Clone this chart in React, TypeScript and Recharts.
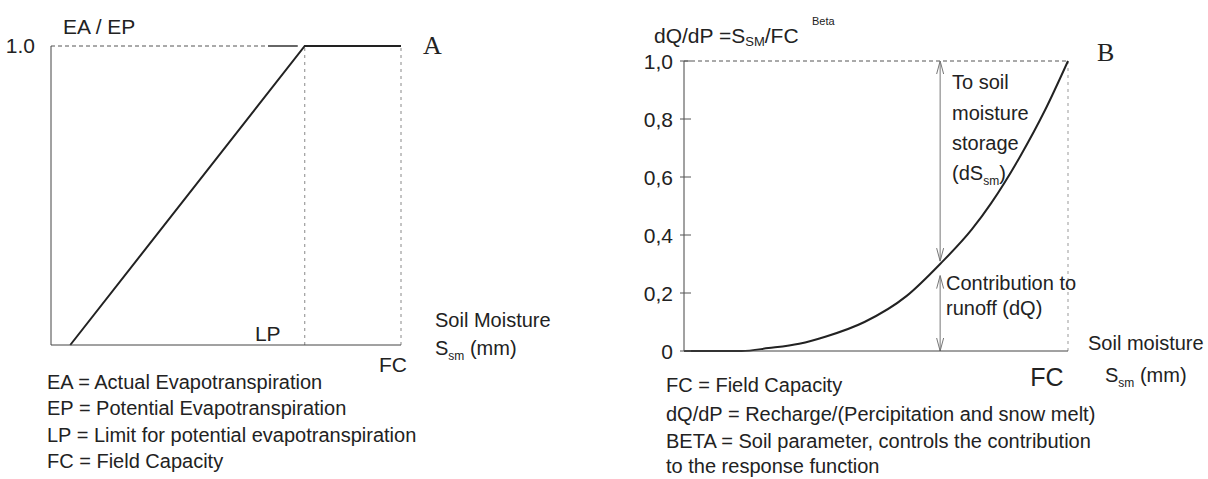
import React from 'react';
import { LineChart, Line, XAxis, YAxis, ReferenceLine } from 'recharts';

// Panel A: EA/EP against soil moisture (FC = 1)
const soilA = [0.055, 0.725, 1];
const ratioA = [0, 1, 1];
const lpA = 0.725;
const fcA = 1;
const ticksA = [1];

// Panel B: dQ/dP = (Ssm/FC)^Beta
const soilB = [0, 0.15, 0.22, 0.3, 0.37, 0.47, 0.58, 0.667, 0.75, 0.8, 0.875, 0.94, 1];
const rechargeB = [0, 0, 0.01, 0.025, 0.05, 0.1, 0.19, 0.3, 0.42, 0.51, 0.67, 0.83, 1];
const ticksB = [0, 0.2, 0.4, 0.6, 0.8, 1];
const tickLabelsB = ['0', '0,2', '0,4', '0,6', '0,8', '1,0'];
const arrowX = 0.667;
const arrowUpper = [0.31, 1];
const arrowLower = [0, 0.26];

const legendA = [
  'EA = Actual Evapotranspiration',
  'EP = Potential Evapotranspiration',
  'LP = Limit for potential evapotranspiration',
  'FC = Field Capacity',
];
const legendB = [
  'FC = Field Capacity',
  'dQ/dP = Recharge/(Percipitation and snow melt)',
  'BETA = Soil parameter, controls the contribution',
  'to the response function',
];

const font = "'Liberation Sans', Arial, sans-serif";
const ink = '#222';

const dataA = soilA.map((s, i) => ({ s, r: ratioA[i] }));
const dataB = soilB.map((s, i) => ({ s, q: rechargeB[i] }));

const lineLabel = (text: string, dx: number, dy: number, size: number) => (props: any) => {
  const vb = props.viewBox || {};
  return (
    <text x={vb.x + dx} y={vb.y + vb.height + dy} textAnchor="middle" fontSize={size} fontFamily={font} fill={ink}>
      {text}
    </text>
  );
};

const DoubleArrow = (props: any) => {
  const { x1, y1, y2 } = props;
  const top = Math.min(y1, y2);
  const bottom = Math.max(y1, y2);
  return (
    <g stroke="#777" strokeWidth={1} fill="none">
      <line x1={x1} y1={top} x2={x1} y2={bottom} />
      <polyline points={`${x1 - 3.5},${top + 13} ${x1},${top} ${x1 + 3.5},${top + 13}`} />
      <polyline points={`${x1 - 3.5},${bottom - 13} ${x1},${bottom} ${x1 + 3.5},${bottom - 13}`} />
    </g>
  );
};

const TickB = ({ x, y, payload }: any) => (
  <g>
    <line x1={x - 4} x2={x + 7} y1={y} y2={y} stroke="#555" />
    <text x={x - 11} y={y} dy="0.36em" textAnchor="end" fontSize={21} fontFamily={font} fill={ink}>
      {tickLabelsB[ticksB.indexOf(payload.value)]}
    </text>
  </g>
);

const txt = (left: number, top: number, size = 20): React.CSSProperties => ({
  position: 'absolute',
  left,
  top,
  fontSize: size,
  lineHeight: 1,
  fontFamily: font,
  color: ink,
  whiteSpace: 'nowrap',
});

const sub: React.CSSProperties = { fontSize: 12, position: 'relative', top: 5 };

export default function App() {
  return (
    <div style={{ position: 'absolute', left: 0, top: 0, width: 1208, height: 479, background: '#fff', overflow: 'hidden' }}>
      {/* Panel A */}
      <div style={{ position: 'absolute', left: 0, top: 0 }}>
        <LineChart width={440} height={479} data={dataA} margin={{ top: 46, right: 39, bottom: 133, left: 11 }}>
          <XAxis type="number" dataKey="s" domain={[0, 1]} height={1} tick={false} tickLine={false} axisLine={{ stroke: '#444' }} />
          <YAxis
            type="number"
            domain={[0, 1]}
            ticks={ticksA}
            width={40}
            tickLine={false}
            tickSize={0}
            tickMargin={16}
            tickFormatter={(v: number) => v.toFixed(1)}
            tick={{ fontSize: 21, fill: ink, fontFamily: font }}
            axisLine={{ stroke: '#444' }}
          />
          <ReferenceLine segment={[{ x: 0, y: 1 }, { x: 0.62, y: 1 }]} stroke="#555" strokeDasharray="4 3" />
          <ReferenceLine segment={[{ x: 0.62, y: 1 }, { x: 0.705, y: 1 }]} stroke="#333" strokeWidth={1.5} />
          <ReferenceLine x={lpA} stroke="#888" strokeDasharray="3 4" label={lineLabel('LP', -37, -4, 21)} />
          <ReferenceLine x={fcA} stroke="#888" strokeDasharray="3 4" label={lineLabel('FC', -8, 27, 21)} />
          <Line type="linear" dataKey="r" stroke="#222" strokeWidth={2} dot={false} isAnimationActive={false} />
        </LineChart>
      </div>
      <div style={txt(63, 16, 21)}>EA / EP</div>
      <div style={{ ...txt(423, 33, 26), fontFamily: "'Liberation Serif', 'Times New Roman', serif" }}>A</div>
      <div style={txt(435, 310)}>Soil Moisture</div>
      <div style={txt(435, 338)}>
        S<span style={sub}>sm</span> (mm)
      </div>
      {legendA.map((t, i) => (
        <div key={t} style={txt(47, 372 + i * 26.3)}>
          {t}
        </div>
      ))}

      {/* Panel B */}
      <div style={{ position: 'absolute', left: 600, top: 0 }}>
        <LineChart width={608} height={479} data={dataB} margin={{ top: 61, right: 140, bottom: 127, left: 44 }}>
          <XAxis type="number" dataKey="s" domain={[0, 1]} height={1} tick={false} tickLine={false} axisLine={{ stroke: '#444' }} />
          <YAxis
            type="number"
            domain={[0, 1]}
            ticks={ticksB}
            width={40}
            tickLine={false}
            tickSize={0}
            tickMargin={0}
            tick={<TickB />}
            axisLine={{ stroke: '#444' }}
          />
          <ReferenceLine y={1} stroke="#555" strokeDasharray="4 3" />
          <ReferenceLine x={1} stroke="#999" strokeDasharray="3 4" label={lineLabel('FC', -21, 35, 25)} />
          <ReferenceLine segment={[{ x: arrowX, y: arrowUpper[0] }, { x: arrowX, y: arrowUpper[1] }]} shape={<DoubleArrow />} />
          <ReferenceLine segment={[{ x: arrowX, y: arrowLower[0] }, { x: arrowX, y: arrowLower[1] }]} shape={<DoubleArrow />} />
          <Line type="monotone" dataKey="q" stroke="#222" strokeWidth={2} dot={false} isAnimationActive={false} />
        </LineChart>
      </div>
      <div style={txt(654, 25, 21)}>
        dQ/dP =S<span style={{ ...sub, fontSize: 13, top: 3 }}>SM</span>/FC
      </div>
      <div style={txt(812, 16, 11)}>Beta</div>
      <div style={{ ...txt(1097, 40, 26), fontFamily: "'Liberation Serif', 'Times New Roman', serif" }}>B</div>
      <div style={txt(952, 72)}>To soil</div>
      <div style={txt(952, 103)}>moisture</div>
      <div style={txt(952, 133)}>storage</div>
      <div style={txt(952, 163)}>
        (dS<span style={sub}>sm</span>)
      </div>
      <div style={txt(946, 273)}>Contribution to</div>
      <div style={txt(946, 298)}>runoff (dQ)</div>
      <div style={txt(1088, 333)}>Soil moisture</div>
      <div style={txt(1105, 365)}>
        S<span style={sub}>sm</span> (mm)
      </div>
      {legendB.map((t, i) => (
        <div key={t} style={txt(666, [375, 404, 431, 456][i])}>
          {t}
        </div>
      ))}
    </div>
  );
}
